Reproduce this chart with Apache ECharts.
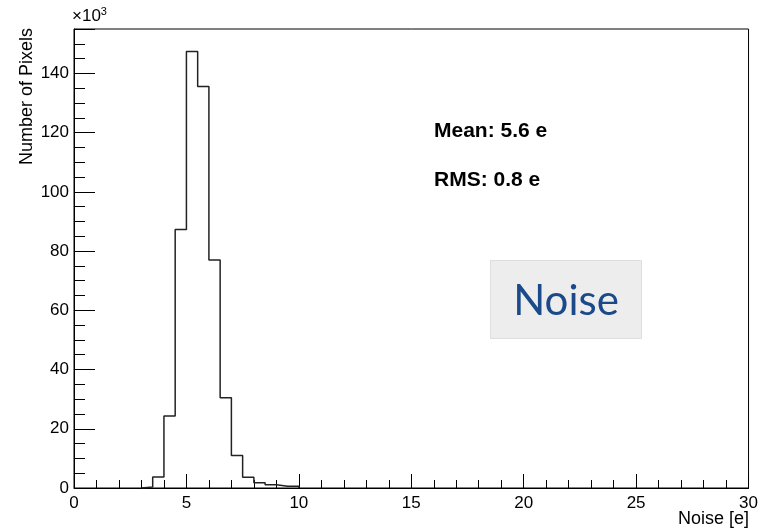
<!DOCTYPE html>
<html>
<head>
<meta charset="utf-8">
<script src="https://cdn.jsdelivr.net/npm/echarts@6/dist/echarts.min.js"></script>
<style>html,body{margin:0;padding:0;background:#fff}#c{width:761px;height:529px}</style>
</head>
<body>
<div id="c"></div>
<script>
// Histogram bin lower edges (Noise [e]) and counts (x10^3 pixels)
const binLow = [3.0, 3.5, 4.0, 4.5, 5.0, 5.5, 6.0, 6.5, 7.0, 7.5, 8.0, 8.5, 9.0, 9.5];
const binWidth = 0.5;
const counts = [0.3, 3.7, 24.3, 87.3, 147.4, 135.6, 77.0, 30.5, 11.0, 3.6, 1.8, 1.1, 0.6, 0.6];
const xTicks = [0, 5, 10, 15, 20, 25, 30];
const yTicks = [0, 20, 40, 60, 80, 100, 120, 140];
const statsText = ['Mean: 5.6 e', 'RMS: 0.8 e'];

const pts = [[binLow[0], 0]];
binLow.forEach((x, i) => pts.push([x, counts[i]]));
pts.push([binLow[binLow.length - 1] + binWidth, 0]);

const font = 'Liberation Sans, Arial, Helvetica, sans-serif';
const chart = echarts.init(document.getElementById('c'), null, {renderer: 'canvas'});
chart.setOption({
  animation: false,
  backgroundColor: '#fff',
  grid: {left: 74, right: 10, top: 29, bottom: 41, show: true, borderColor: '#000', borderWidth: 1, backgroundColor: 'transparent'},
  xAxis: {
    type: 'value', min: xTicks[0], max: xTicks[xTicks.length - 1], interval: 5,
    axisLine: {show: true, onZero: false, lineStyle: {color: '#000', width: 1}},
    axisTick: {show: true, inside: true, length: 14, lineStyle: {color: '#000'}},
    minorTick: {show: true, splitNumber: 5, length: 8, lineStyle: {color: '#000'}},
    splitLine: {show: false},
    axisLabel: {color: '#000', fontFamily: font, fontSize: 17, margin: 7}
  },
  yAxis: {
    type: 'value', min: 0, max: 155, interval: 20,
    axisLine: {show: true, onZero: false, lineStyle: {color: '#000', width: 1}},
    axisTick: {show: true, inside: true, length: 21, lineStyle: {color: '#000'}},
    minorTick: {show: true, splitNumber: 4, length: 11, lineStyle: {color: '#000'}},
    splitLine: {show: false},
    axisLabel: {color: '#000', fontFamily: font, fontSize: 17, margin: 5, showMaxLabel: false,
      formatter: v => (yTicks.indexOf(v) >= 0 ? String(v) : '')}
  },
  series: [{
    type: 'line', step: 'end', data: pts, symbol: 'none',
    lineStyle: {color: '#222', width: 1.5}, z: 3
  }],
  graphic: [
    {type: 'text', left: 72, top: 6, style: {
      text: '×10{s|3}', fill: '#000', font: '17px ' + font,
      rich: {s: {fontSize: 11, verticalAlign: 'top', padding: [0, 0, 9, 0], fontFamily: font}}
    }},
    {type: 'text', x: 27, y: 28, rotation: Math.PI / 2, style: {
      text: 'Number of Pixels', fill: '#000', font: '18px ' + font, align: 'right', verticalAlign: 'middle'
    }},
    {type: 'text', x: 749, y: 519, style: {
      text: 'Noise [e]', fill: '#000', font: '18px ' + font, align: 'right', verticalAlign: 'middle'
    }},
    {type: 'text', x: 434, y: 131, style: {
      text: statsText[0], fill: '#000', font: 'bold 21px ' + font, align: 'left', verticalAlign: 'middle'
    }},
    {type: 'text', x: 434, y: 180, style: {
      text: statsText[1], fill: '#000', font: 'bold 21px ' + font, align: 'left', verticalAlign: 'middle'
    }},
    {type: 'rect', shape: {x: 490.5, y: 260.5, width: 151, height: 78}, style: {fill: '#ededed', stroke: '#dedede', lineWidth: 1}},
    {type: 'text', x: 566, y: 301, style: {
      text: 'Noise', fill: '#1b4a8a', font: '42px Lato, "Open Sans", sans-serif', align: 'center', verticalAlign: 'middle'
    }}
  ]
});
</script>
</body>
</html>
